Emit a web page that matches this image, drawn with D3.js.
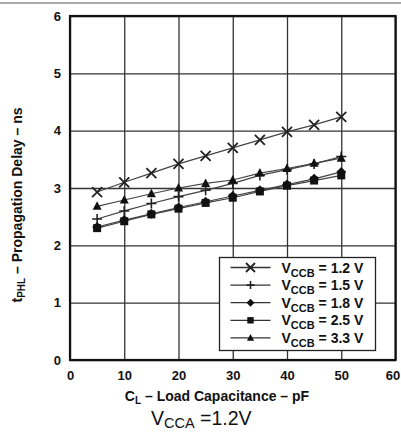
<!DOCTYPE html>
<html>
<head>
<meta charset="utf-8">
<script src="https://cdn.jsdelivr.net/npm/d3@7"></script>
<style>
  body { margin: 0; background: #fff; }
  svg text { font-family: "Liberation Sans", Arial, sans-serif; fill: #111; }
</style>
</head>
<body>
<div id="chart"></div>
<script>
// load capacitance (pF) and tPHL (ns) per VCCB, VCCA = 1.2 V
const loadCap = [5, 10, 15, 20, 25, 30, 35, 40, 45, 50];
const vccb12 = [2.93, 3.10, 3.26, 3.42, 3.56, 3.70, 3.84, 3.98, 4.10, 4.24];
const vccb15 = [2.46, 2.60, 2.73, 2.85, 2.96, 3.08, 3.22, 3.32, 3.42, 3.55];
const vccb18 = [2.32, 2.44, 2.55, 2.66, 2.76, 2.86, 2.96, 3.06, 3.16, 3.28];
const vccb25 = [2.30, 2.42, 2.54, 2.64, 2.74, 2.83, 2.94, 3.04, 3.13, 3.22];
const vccb33 = [2.68, 2.79, 2.90, 3.00, 3.08, 3.14, 3.26, 3.34, 3.43, 3.52];
const seriesNames = ["1.2 V", "1.5 V", "1.8 V", "2.5 V", "3.3 V"];
const seriesMarks = ["cross", "plus", "diamond", "square", "triangle"];
const xTicks = [0, 10, 20, 30, 40, 50, 60];
const yTicks = [0, 1, 2, 3, 4, 5, 6];

const series = [vccb12, vccb15, vccb18, vccb25, vccb33].map((vals, i) => ({
  name: seriesNames[i],
  mark: seriesMarks[i],
  points: vals.map((v, j) => ({ x: loadCap[j], y: v }))
}));

const W = 401, H = 432;
const margin = { top: 16, left: 70, right: 5.5, bottom: 72 };
const innerW = W - margin.left - margin.right;
const innerH = H - margin.top - margin.bottom;

const svg = d3.select("#chart").append("svg")
  .attr("width", W).attr("height", H);

// grey rule at the very top
svg.append("rect").attr("x", 0).attr("y", 2).attr("width", W).attr("height", 2)
  .attr("fill", "#aaa");

const g = svg.append("g").attr("transform", `translate(${margin.left},${margin.top})`);

const x = d3.scaleLinear().domain([0, 60]).range([0, innerW]);
const y = d3.scaleLinear().domain([0, 6]).range([innerH, 0]);

// grid
g.append("g")
  .call(d3.axisLeft(y).tickValues(yTicks).tickSize(-innerW).tickFormat(""))
  .call(a => a.select(".domain").remove())
  .call(a => a.selectAll("line").attr("stroke", "#333").attr("stroke-width", 1.3));
g.append("g")
  .attr("transform", `translate(0,${innerH})`)
  .call(d3.axisBottom(x).tickValues(xTicks).tickSize(-innerH).tickFormat(""))
  .call(a => a.select(".domain").remove())
  .call(a => a.selectAll("line").attr("stroke", "#333").attr("stroke-width", 1.3));

// tick labels
g.append("g")
  .call(d3.axisLeft(y).tickValues(yTicks).tickSize(0).tickPadding(9).tickFormat(d3.format("d")))
  .call(a => a.select(".domain").remove())
  .selectAll("text")
  .style("font-size", "13px").style("font-weight", "bold");
g.append("g")
  .attr("transform", `translate(0,${innerH})`)
  .call(d3.axisBottom(x).tickValues(xTicks).tickSize(0).tickPadding(11).tickFormat(d3.format("d")))
  .call(a => a.select(".domain").remove())
  .selectAll("text")
  .attr("dx", d => d === 60 ? -3 : 0)
  .style("font-size", "13px").style("font-weight", "bold");

// frame
g.append("rect").attr("width", innerW).attr("height", innerH)
  .attr("fill", "none").attr("stroke", "#111").attr("stroke-width", 2.2);

// markers
function drawMark(sel, type, s) {
  if (type === "cross") {
    sel.append("path").attr("d", `M${-s},${-s}L${s},${s}M${-s},${s}L${s},${-s}`)
      .attr("stroke", "#222").attr("stroke-width", 1.8).attr("fill", "none");
  } else if (type === "plus") {
    sel.append("path").attr("d", `M${-s},0L${s},0M0,${-s}L0,${s}`)
      .attr("stroke", "#222").attr("stroke-width", 1.6).attr("fill", "none");
  } else if (type === "diamond") {
    sel.append("path").attr("d", `M0,${-s}L${s},0L0,${s}L${-s},0Z`).attr("fill", "#111");
  } else if (type === "square") {
    const h = s * 0.8;
    sel.append("rect").attr("x", -h).attr("y", -h).attr("width", 2 * h).attr("height", 2 * h)
      .attr("fill", "#111");
  } else {
    sel.append("path").attr("d", `M0,${-s}L${s * 0.9},${s * 0.7}L${-s * 0.9},${s * 0.7}Z`)
      .attr("fill", "#111");
  }
}

const line = d3.line().x(d => x(d.x)).y(d => y(d.y));

series.forEach(s => {
  g.append("path").datum(s.points)
    .attr("d", line)
    .attr("fill", "none").attr("stroke", "#444").attr("stroke-width", 1.2);
  g.selectAll(null).data(s.points).enter().append("g")
    .attr("transform", d => `translate(${x(d.x)},${y(d.y)})`)
    .each(function() { drawMark(d3.select(this), s.mark, 5); });
});

// legend
const lg = svg.append("g").attr("transform", "translate(219.5,257.5)");
lg.append("rect").attr("width", 156).attr("height", 93)
  .attr("fill", "#fff").attr("stroke", "#222").attr("stroke-width", 1.3);
series.forEach((s, i) => {
  const ly = 10 + i * 17.6;
  lg.append("line").attr("x1", 11).attr("x2", 51).attr("y1", ly).attr("y2", ly)
    .attr("stroke", "#333").attr("stroke-width", 1.3);
  const m = lg.append("g").attr("transform", `translate(31,${ly})`);
  drawMark(m, s.mark, s.mark === "cross" ? 4.5 : 4);
  const t = lg.append("text").attr("x", 62).attr("y", ly + 5)
    .style("font-size", "14px").style("font-weight", "bold");
  t.append("tspan").text("V");
  t.append("tspan").attr("dy", 4).style("font-size", "11px").text("CCB");
  t.append("tspan").attr("dy", -4).text(" = " + s.name);
});

// x axis title
const xt = svg.append("text").attr("x", 217).attr("y", 401)
  .attr("text-anchor", "middle").style("font-size", "14px").style("font-weight", "bold");
xt.append("tspan").text("C");
xt.append("tspan").attr("dy", 3).style("font-size", "10px").text("L");
xt.append("tspan").attr("dy", -3).text(" \u2013 Load Capacitance \u2013 pF");

// y axis title
const yt = svg.append("text").attr("transform", "translate(22,205) rotate(-90)")
  .attr("text-anchor", "middle").style("font-size", "14px").style("font-weight", "bold");
yt.append("tspan").text("t");
yt.append("tspan").attr("dy", 3).style("font-size", "10px").text("PHL");
yt.append("tspan").attr("dy", -3).text(" \u2013 Propagation Delay \u2013 ns");

// VCCA note
const vt = svg.append("text").attr("x", 151).attr("y", 425)
  .style("font-size", "19.5px");
vt.append("tspan").text("V");
vt.append("tspan").attr("dy", 2.5).style("font-size", "14.5px").text("CCA");
vt.append("tspan").attr("dy", -2.5).text(" =1.2V");
</script>
</body>
</html>
